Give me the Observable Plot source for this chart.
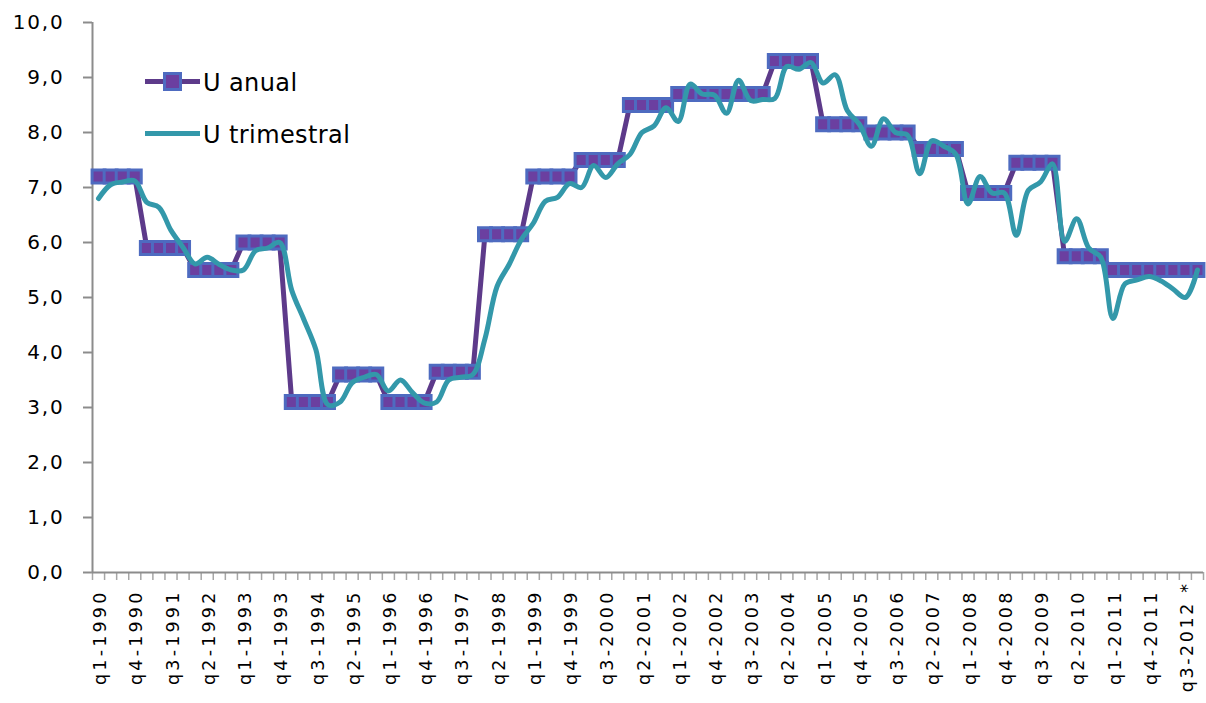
<!DOCTYPE html>
<html>
<head>
<meta charset="utf-8">
<script src="https://cdn.jsdelivr.net/npm/d3@7"></script>
<script src="https://cdn.jsdelivr.net/npm/@observablehq/plot@0.6"></script>
<style>
  body { margin: 0; background: #fff; }
  #wrap { position: relative; width: 1206px; height: 703px; font-family: "DejaVu Sans", sans-serif; }
  #legend { position: absolute; left: 0; top: 0; }
</style>
</head>
<body>
<div id="wrap">
  <div id="chart"></div>
  <svg id="legend" width="400" height="170"></svg>
</div>
<script>
// Unemployment rate, quarterly series 1990–2012
const years = [1990, 1991, 1992, 1993, 1994, 1995, 1996, 1997, 1998, 1999, 2000, 2001,
               2002, 2003, 2004, 2005, 2006, 2007, 2008, 2009, 2010, 2011, 2012];
const quarterNames = ["q1", "q2", "q3", "q4"];
const quarters = years.flatMap(y => quarterNames.map(q => `${q}-${y}`));

// Annual rate, repeated over each quarter of its year
const annualRate = [7.2, 5.9, 5.5, 6.0, 3.1, 3.6, 3.1, 3.65, 6.15, 7.2, 7.5, 8.5,
                    8.7, 8.7, 9.3, 8.15, 8.0, 7.7, 6.9, 7.45, 5.75, 5.5, 5.5];

// Quarterly rate, q1-1990 … q4-2012
const quarterlyRate = [
  6.8, 7.05, 7.1, 7.12,    6.73, 6.64, 6.22, 5.91,   5.61, 5.73, 5.6, 5.5,
  5.5, 5.85, 5.9, 6.0,     5.13, 4.6, 4.05, 3.05,    3.1, 3.45, 3.55, 3.6,
  3.3, 3.5, 3.27, 3.08,    3.1, 3.5, 3.55, 3.6,      4.25, 5.2, 5.6, 6.05,
  6.35, 6.75, 6.82, 7.07,  7.0, 7.4, 7.18, 7.43,     7.6, 8.0, 8.12, 8.45,
  8.2, 8.88, 8.7, 8.68,    8.35, 8.95, 8.58, 8.6,    8.62, 9.2, 9.15, 9.27,
  8.9, 9.05, 8.4, 8.15,    7.75, 8.25, 8.0, 7.95,    7.25, 7.85, 7.75, 7.6,
  6.7, 7.2, 6.9, 6.9,      6.13, 6.95, 7.1, 7.43,    6.02, 6.43, 5.9, 5.73,
  4.62, 5.25, 5.32, 5.38,  5.3, 5.15, 5.0, 5.5
];

const tickLabels = [
  "q1-1990", "q4-1990", "q3-1991", "q2-1992", "q1-1993", "q4-1993", "q3-1994", "q2-1995",
  "q1-1996", "q4-1996", "q3-1997", "q2-1998", "q1-1999", "q4-1999", "q3-2000", "q2-2001",
  "q1-2002", "q4-2002", "q3-2003", "q2-2004", "q1-2005", "q4-2005", "q3-2006", "q2-2007",
  "q1-2008", "q4-2008", "q3-2009", "q2-2010", "q1-2011", "q4-2011", "q3-2012 *"
];
const yTicks = [0, 1, 2, 3, 4, 5, 6, 7, 8, 9, 10];
const seriesNames = ["U anual", "U trimestral"];

const colors = {
  annualLine: "#5d3a8a",
  markerFill: "#6b3fa0",
  markerStroke: "#4e6bc0",
  quarterly: "#3398aa",
  axis: "#8c8c8c",
  tick: "#a6a6a6"
};

const annual = quarters.map((q, i) => ({q, i: i + 0.5, v: annualRate[Math.floor(i / 4)]}));
const quarterly = quarters.map((q, i) => ({q, i: i + 0.5, v: quarterlyRate[i]}));
const labelPos = tickLabels.map(t => quarters.indexOf(t.replace(" *", "")) + 0.5);
const labelAt = new Map(labelPos.map((p, k) => [p, tickLabels[k]]));
const comma = d => d.toFixed(1).replace(".", ",");

const chart = Plot.plot({
  width: 1206,
  height: 703,
  marginLeft: 92,
  marginRight: 3,
  marginTop: 22,
  marginBottom: 131,
  style: {fontFamily: "DejaVu Sans, sans-serif", background: "#fff", color: "#000"},
  x: {domain: [0, quarters.length], label: null},
  y: {domain: [0, 10], label: null},
  marks: [
    Plot.axisY(yTicks, {
      tickSize: 9, tickPadding: 19, tickFormat: comma, label: null,
      stroke: colors.axis, strokeWidth: 2, fill: "#000", fontSize: 20
    }),
    Plot.axisX(d3.range(0, quarters.length + 1), {
      tickSize: 8, tickFormat: () => "", label: null, stroke: colors.tick, strokeWidth: 1.5
    }),
    Plot.axisX(labelPos, {
      tickSize: 0, tickPadding: 17, tickRotate: -90, label: null, dx: 2,
      tickFormat: d => labelAt.get(d), fill: "#000", fontSize: 17.5
    }),
    Plot.ruleX([0], {stroke: colors.axis, strokeWidth: 2}),
    Plot.ruleY([0], {stroke: colors.axis, strokeWidth: 2}),
    Plot.line(annual, {x: "i", y: "v", stroke: colors.annualLine, strokeWidth: 5}),
    Plot.dot(annual, {
      x: "i", y: "v", symbol: "square", r: 7.3,
      fill: colors.markerFill, stroke: colors.markerStroke, strokeWidth: 3
    }),
    Plot.line(quarterly, {
      x: "i", y: "v", stroke: colors.quarterly, strokeWidth: 5, curve: "catmull-rom"
    })
  ]
});

const svg = d3.select(chart);
svg.selectAll('g[aria-label="y-axis tick label"] text').style("letter-spacing", "1.8px");
const xLabels = svg.selectAll('g[aria-label="x-axis tick label"] text').style("letter-spacing", "3.2px");
// the flagged last label sits a little closer to the axis
xLabels.filter(function () { return this.textContent.includes("*"); }).attr("dx", 8).style("letter-spacing", "2.6px");
document.getElementById("chart").append(chart);

// Legend in the upper-left corner of the plot area
const legend = d3.select("#legend");
const rows = [
  {name: seriesNames[0], y: 81.5, base: 90.5, stroke: colors.annualLine, marker: true},
  {name: seriesNames[1], y: 133.5, base: 142.7, stroke: colors.quarterly, marker: false}
];
for (const r of rows) {
  legend.append("line")
    .attr("x1", 145).attr("x2", 200).attr("y1", r.y).attr("y2", r.y)
    .attr("stroke", r.stroke).attr("stroke-width", 5);
  if (r.marker) {
    legend.append("rect")
      .attr("x", 172.5 - 8).attr("y", r.y - 8).attr("width", 16).attr("height", 16)
      .attr("fill", colors.markerFill).attr("stroke", colors.markerStroke).attr("stroke-width", 3);
  }
  legend.append("text")
    .attr("x", 203).attr("y", r.base)
    .attr("font-family", "DejaVu Sans, sans-serif").attr("font-size", 24)
    .attr("letter-spacing", "0.4px").attr("fill", "#000")
    .text(r.name);
}
</script>
</body>
</html>
